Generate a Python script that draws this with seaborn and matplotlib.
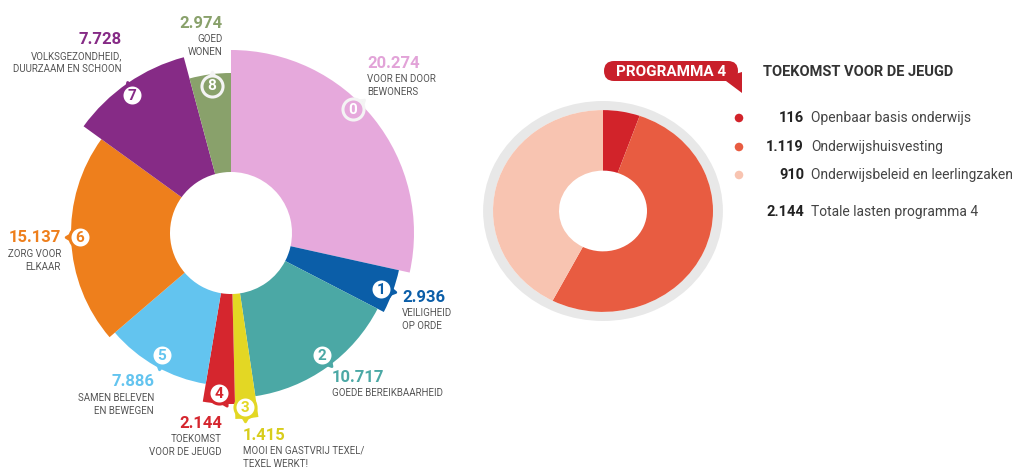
import numpy as np
import matplotlib
matplotlib.use("Agg")
import matplotlib.pyplot as plt
import seaborn as sns
from matplotlib.patches import FancyBboxPatch, Polygon

# ---------------- data ----------------
prog_ids = ["0", "1", "2", "3", "4", "5", "6", "7", "8"]
prog_values = [20.274, 2.936, 10.717, 1.415, 2.144, 7.886, 15.137, 7.728, 2.974]
prog_value_labels = ["20.274", "2.936", "10.717", "1.415", "2.144", "7.886", "15.137", "7.728", "2.974"]
prog_names = ["VOOR EN DOOR\nBEWONERS", "VEILIGHEID\nOP ORDE", "GOEDE BEREIKBAARHEID",
              "MOOI EN GASTVRIJ TEXEL/\nTEXEL WERKT!", "TOEKOMST\nVOOR DE JEUGD",
              "SAMEN BELEVEN\nEN BEWEGEN", "ZORG VOOR\nELKAAR",
              "VOLKSGEZONDHEID,\nDUURZAAM EN SCHOON", "GOED\nWONEN"]
prog_outer = [183, 172, 165, 186, 171, 153, 160, 182, 160]   # outer radius
prog_colors = ["#e6a9dc", "#0b5ea8", "#4ba8a5", "#e3d724", "#d5262e",
               "#63c4ef", "#ee7f1c", "#862b86", "#89a16b"]

sub_values = [116, 1119, 910]
sub_value_labels = ["116", "1.119", "910"]
sub_names = ["Openbaar basis onderwijs", "Onderwijshuisvesting", "Onderwijsbeleid en leerlingzaken"]
sub_colors = ["#d2232a", "#e85c41", "#f8c4b1"]
total_label = "2.144"
total_name = "Totale lasten programma 4"
badge_text = "PROGRAMMA 4"
title_text = "TOEKOMST VOOR DE JEUGD"

# ---------------- style ----------------
sns.set_theme(style="white")
plt.rcParams["font.family"] = ["Roboto", "DejaVu Sans"]

W, H = 1035, 468
fig = plt.figure(figsize=(W / 100, H / 100), dpi=100)
fig.patch.set_facecolor("white")

def fig_rect(x0, y0, x1, y1):
    return [x0 / W, (H - y1) / H, (x1 - x0) / W, (y1 - y0) / H]

# ---------------- left: polar area chart ----------------
cx, cy, R = 231, 233, 190
hole = 61
axp = fig.add_axes(fig_rect(cx - R, cy - R, cx + R, cy + R), projection="polar")
axp.set_theta_zero_location("N")
axp.set_theta_direction(-1)
vals = np.array(prog_values)
widths = vals / vals.sum() * 2 * np.pi
starts = np.concatenate([[0], np.cumsum(widths)[:-1]])
axp.bar(starts, np.array(prog_outer) - hole, width=widths, bottom=hole,
        align="edge", color=prog_colors, edgecolor="none", linewidth=0)
axp.set_ylim(0, R)
axp.axis("off")

# ---------------- right: donut ----------------
axd = fig.add_axes(fig_rect(482, 100, 724, 322))
axd.pie([1], radius=1.09, colors=["#e8e8e8"], startangle=90,
        wedgeprops=dict(width=0.09, edgecolor="none"))
axd.pie(sub_values, radius=1.0, colors=sub_colors, startangle=90, counterclock=False,
        wedgeprops=dict(width=0.6, edgecolor="none"))
axd.set_xlim(-1.1, 1.1)
axd.set_ylim(-1.1, 1.1)
axd.set_aspect("auto")
axd.axis("off")

# ---------------- overlay for labels ----------------
ov = fig.add_axes([0, 0, 1, 1])
ov.set_xlim(0, W)
ov.set_ylim(H, 0)
ov.axis("off")
ov.patch.set_alpha(0)

grey = "#555555"
# (x, y of number, alignment, label top y)
label_pos = [
    (367, 63, "left"), (402, 297, "left"), (332, 377, "left"), (243, 435, "left"),
    (222, 423, "right"), (154, 382, "right"), (61, 238, "right"), (122, 40, "right"),
    (223, 23, "right"),
]
num_colors = ["#e2a3d8", "#0b5ea8", "#4ba8a5", "#d8cd1c", "#d5262e",
              "#63c4ef", "#ee7f1c", "#862b86", "#89a16b"]
for (x, y, ha), num, name, col in zip(label_pos, prog_value_labels, prog_names, num_colors):
    ov.text(x, y, num, ha=ha, va="center", fontsize=12, fontweight="bold", color=col)
    ov.text(x, y + 11, name, ha=ha, va="top", fontsize=7, color=grey, linespacing=1.35)

# bubbles with tails
bubble_pos = [(353, 109), (381, 289), (322, 355), (245, 407), (219, 393),
              (162, 355), (80, 237), (132, 95), (212, 86)]
tail_dir = [40, -10, -50, -90, -60, -100, 180, 110, 90]
for i, ((bx, by), a) in enumerate(zip(bubble_pos, tail_dir)):
    col = prog_colors[i]
    on_segment = i in (0, 8)
    face = col if on_segment else "white"
    edge = "#f4f4f4" if on_segment else col
    txtc = "white" if on_segment else col
    d = 9
    tx = bx + d * np.cos(np.radians(a))
    ty = by - d * np.sin(np.radians(a))
    ov.scatter([tx], [ty], marker=(3, 0, a - 90), s=60, facecolor=face,
               edgecolor=edge, linewidth=2, zorder=5)
    ov.scatter([bx], [by], marker="o", s=230, facecolor=face, edgecolor=edge,
               linewidth=2.2, zorder=6)
    ov.text(bx, by + 0.5, prog_ids[i], ha="center", va="center", fontsize=11,
            fontweight="bold", color=txtc, zorder=7)

# badge
badge_red = "#c9202b"
ov.add_patch(FancyBboxPatch((604, 61), 134, 20, boxstyle="round,pad=0,rounding_size=10",
                            facecolor=badge_red, edgecolor="none", zorder=4))
ov.add_patch(Polygon([(722, 78), (742, 72), (742, 93)], closed=True,
                     facecolor=badge_red, edgecolor="none", zorder=4))
ov.text(671, 71.5, badge_text, ha="center", va="center", fontsize=11,
        fontweight="bold", color="white", zorder=5)
ov.text(763, 72, title_text, ha="left", va="center", fontsize=10.5,
        fontweight="bold", color="#333333")

# legend
leg_y = [118, 147, 175]
for y, num, name, col in zip(leg_y, sub_value_labels, sub_names, sub_colors):
    ov.scatter([739], [y], s=38, color=col, edgecolor="none")
    ov.text(804, y, num, ha="right", va="center", fontsize=10.5, fontweight="bold", color="#222222")
    ov.text(811, y, name, ha="left", va="center", fontsize=10, color="#444444")
ov.text(804, 212, total_label, ha="right", va="center", fontsize=10.5, fontweight="bold", color="#222222")
ov.text(811, 212, total_name, ha="left", va="center", fontsize=10, color="#444444")

fig.savefig("out.png", dpi=100, facecolor="white")
